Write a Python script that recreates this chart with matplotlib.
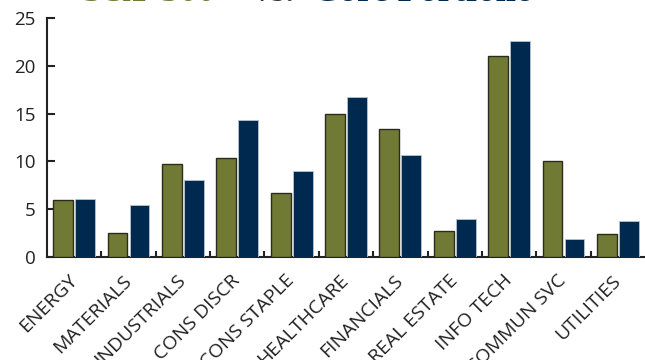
import matplotlib
matplotlib.use("Agg")
import matplotlib.pyplot as plt
import numpy as np

categories = ["ENERGY", "MATERIALS", "INDUSTRIALS", "CONS DISCR", "CONS STAPLE",
              "HEALTHCARE", "FINANCIALS", "REAL ESTATE", "INFO TECH", "COMMUN SVC", "UTILITIES"]
sp500 = [6.0, 2.5, 9.7, 10.4, 6.7, 15.0, 13.4, 2.7, 21.0, 10.0, 2.4]
core = [6.1, 5.4, 8.1, 14.3, 9.0, 16.7, 10.7, 4.0, 22.6, 1.9, 3.8]
yticks = [0, 5, 10, 15, 20, 25]

green = "#707a35"
navy = "#00294f"

fig = plt.figure(figsize=(6.45, 3.6), dpi=100)
ax = fig.add_axes([47/645, 1-257/360, 1-47/645, (257-18)/360])

x = np.arange(len(categories))
w = 0.365
ax.bar(x - w/2 - 0.02, sp500, width=w, color=green, edgecolor="#2b2b1e", linewidth=1.0, zorder=3)
ax.bar(x + w/2 + 0.02, core, width=w, color=navy, edgecolor="#b8c4d0", linewidth=0.6, zorder=3)

ax.set_xlim(-0.5, len(categories) - 0.5)
ax.set_ylim(0, 25)
ax.set_yticks(yticks)
ax.set_yticklabels([str(v) for v in yticks], fontsize=13.5, family="Open Sans", color="#222222")
ax.tick_params(axis="y", direction="in", length=6, width=1.5, pad=8, color="#222222")

ax.set_xticks(x)
ax.set_xticklabels(categories, rotation=45, ha="right", va="center", rotation_mode="anchor",
                   fontsize=14, family="Open Sans", color="#222222")
ax.tick_params(axis="x", which="major", length=0, pad=15)
ax.set_xticks(np.arange(len(categories) - 1) + 0.5, minor=True)
ax.tick_params(axis="x", which="minor", direction="in", length=4, width=1.5, color="#222222")

for s in ["top", "right"]:
    ax.spines[s].set_visible(False)
for s in ["left", "bottom"]:
    ax.spines[s].set_linewidth(1.5)
    ax.spines[s].set_color("#222222")

ty = 1 - 1.0/360
fig.text(82/645, ty, "S&P 500", color=green, fontsize=26, family="Liberation Serif",
         weight="bold", ha="left", va="baseline")
fig.text(253/645, ty, "vs.", color="#333333", fontsize=26, family="Liberation Serif",
         weight="bold", ha="left", va="baseline")
fig.text(313/645, ty, "Core Portfolio", color=navy, fontsize=26, family="Liberation Serif",
         weight="bold", ha="left", va="baseline")

fig.savefig("out.png", dpi=100)
